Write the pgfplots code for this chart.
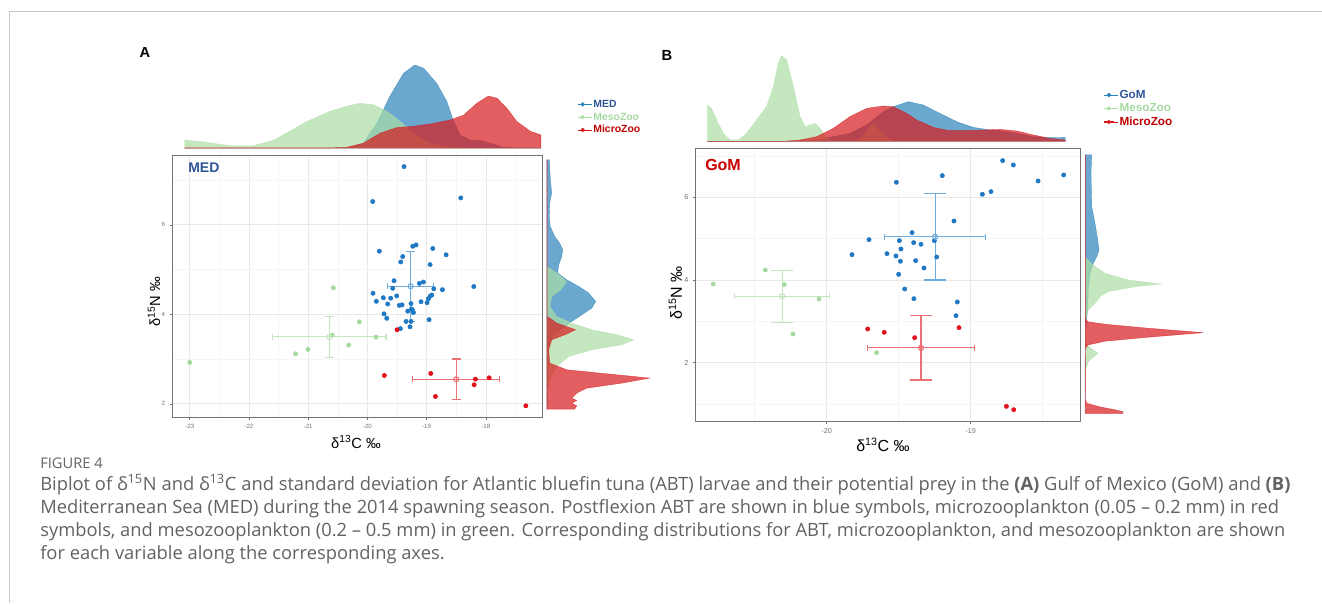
\documentclass[border=0pt]{standalone}
\usepackage{fontspec}
\setmainfont{Liberation Sans}
\newfontfamily\capfont{Open Sans}
\usepackage{pgfplots}
\pgfplotsset{compat=1.18}

\definecolor{ptblue}{RGB}{31,120,196}
\definecolor{ptgreen}{RGB}{166,217,160}
\definecolor{ptred}{RGB}{226,18,28}
\definecolor{dblue}{RGB}{43,131,186}
\definecolor{dgreen}{RGB}{171,221,164}
\definecolor{dred}{RGB}{215,25,28}
\definecolor{ebblue}{RGB}{110,172,222}
\definecolor{ebgreen}{RGB}{196,230,190}
\definecolor{ebred}{RGB}{236,112,118}
\definecolor{medtxt}{RGB}{47,85,151}
\definecolor{mesotxt}{RGB}{166,216,160}
\definecolor{microtxt}{RGB}{192,0,0}
\definecolor{gomtxt}{RGB}{204,0,0}
\definecolor{capgray}{RGB}{98,98,98}
\definecolor{framegray}{RGB}{200,200,200}

\pgfplotsset{
  panel/.style={scale only axis, axis line style={draw=black!55, line width=0.6pt},
    tick pos=left, tick align=outside, major tick length=1.6pt, minor tick length=0pt,
    tick style={black!55, line width=0.4pt}, grid=both,
    major grid style={black!9, line width=0.45pt}, minor grid style={black!4, line width=0.35pt},
    /pgf/number format/assume math mode=true, clip=false},
  marg/.style={scale only axis, hide axis, clip=false},
  dens/.style={draw=#1, draw opacity=0.75, fill=#1, fill opacity=0.7, line width=0.3pt, forget plot},
  pts/.style={only marks, mark=*, mark size=1.6pt, color=#1, mark options={draw=#1, fill=#1}},
  ebx/.style n args={2}{only marks, mark=o, mark size=1.9pt, color=#1, mark options={line width=0.6pt},
    error bars/.cd, x dir=both, x explicit, error mark=-, error bar style={#1, line width=0.8pt},
    error mark options={rotate=90, #1, line width=0.8pt, mark size=#2}},
  eby/.style n args={2}{only marks, mark=o, mark size=1.9pt, color=#1, mark options={line width=0.6pt},
    error bars/.cd, y dir=both, y explicit, error mark=-, error bar style={#1, line width=0.8pt},
    error mark options={rotate=90, #1, line width=0.8pt, mark size=#2}},
  legimg/.style={legend cell align=left,
    legend image code/.code={\path (0pt,0pt) -- (10.8pt,0pt); \draw[##1, line width=0.7pt] (0pt,0pt) -- (7.5pt,0pt); \fill[##1] (3.75pt,0pt) circle (1.4pt);}},
}

\begin{document}
\begin{tikzpicture}
\useasboundingbox (0pt,0pt) rectangle (991.5pt,454.5pt);

% ---------------- Panel A main ----------------
\begin{axis}[panel, at={(129pt,338.25pt)}, anchor=north west, width=278pt, height=197pt,
  xmin=-23.30, xmax=-17.04, ymin=1.69, ymax=7.56,
  xtick={-23,-22,-21,-20,-19,-18}, ytick={2,4,6},
  minor xtick={-22.5,-21.5,-20.5,-19.5,-18.5,-17.5}, minor ytick={3,5,7},
  ticklabel style={font=\fontsize{4.6}{5}\selectfont, text=black!55}]
\addplot[pts=ptblue] coordinates {
(-19.381,7.30) (-19.911,6.52) (-18.423,6.60) (-19.798,5.41) (-19.234,5.52) (-19.178,5.55)
(-18.896,5.47) (-18.671,5.33) (-19.404,5.29) (-19.437,5.17) (-18.941,5.11) (-19.550,4.75)
(-19.573,4.58) (-19.054,4.72) (-19.122,4.69) (-18.879,4.57) (-18.733,4.55) (-18.203,4.62)
(-19.905,4.47) (-19.731,4.37) (-19.849,4.29) (-19.505,4.41) (-19.607,4.36) (-18.913,4.43)
(-18.936,4.41) (-18.969,4.35) (-19.657,4.23) (-19.460,4.20) (-19.415,4.21) (-19.263,4.24)
(-19.094,4.28) (-18.992,4.26) (-19.257,4.12) (-19.240,4.10) (-19.319,4.07) (-19.223,4.04)
(-19.719,4.01) (-19.674,3.91) (-19.347,3.84) (-19.263,3.84) (-18.958,3.88) (-19.280,3.72)
(-19.443,3.68)};
\addplot[pts=ptgreen] coordinates {
(-23.000,2.924) (-21.213,3.117) (-21.004,3.214) (-20.576,4.592) (-20.593,3.534)
(-20.317,3.311) (-20.136,3.832) (-19.855,3.490)};
\addplot[pts=ptred] coordinates {
(-19.499,3.654) (-19.714,2.633) (-18.930,2.678) (-18.851,2.164) (-18.175,2.551)
(-18.197,2.425) (-17.944,2.581) (-17.324,1.955)};
\addplot[ebx={ebblue}{2.4pt}] coordinates {(-19.27,4.626) +- (0.384,0)};
\addplot[eby={ebblue}{3.6pt}] coordinates {(-19.27,4.626) +- (0,0.786)};
\addplot[ebx={ebgreen}{2.4pt}] coordinates {(-20.645,3.494) +- (0.959,0)};
\addplot[eby={ebgreen}{3.4pt}] coordinates {(-20.645,3.494) +- (0,0.459)};
\addplot[ebx={ebred}{2.4pt}] coordinates {(-18.50,2.549) +- (0.733,0)};
\addplot[eby={ebred}{3.4pt}] coordinates {(-18.50,2.549) +- (0,0.452)};
\end{axis}

% top marginal A
\begin{axis}[marg, legimg, at={(129pt,343.275pt)}, anchor=south west, width=278pt, height=67.5pt,
  xmin=-23.30, xmax=-17.04, ymin=0, ymax=90,
  legend style={at={(1.0925,0.562)}, anchor=north west, draw=none, fill=none, inner sep=0pt,
    font=\bfseries\fontsize{7.8}{8}\selectfont, row sep=0pt,
    nodes={inner sep=0.8pt, text height=6.2pt, text depth=1.8pt}}]
\addlegendimage{color=dblue}\addlegendentry{\textcolor{medtxt}{MED}}
\addlegendimage{color=dgreen}\addlegendentry{\textcolor{mesotxt}{MesoZoo}}
\addlegendimage{color=dred}\addlegendentry{\textcolor{microtxt}{MicroZoo}}
\addplot[dens=dblue] coordinates {
(-23.085,0) (-23.085,0.3) (-20.63,0.3) (-20.35,0.5) (-20.07,5) (-19.84,25) (-19.62,52) (-19.39,75)
(-19.20,83.3) (-19.05,80) (-18.83,65) (-18.66,47) (-18.55,28) (-18.43,13) (-18.26,8)
(-18.10,8) (-17.93,5) (-17.70,1) (-17.48,0.3) (-17.07,0.3) (-17.07,0)};
\addplot[dens=dgreen] coordinates {
(-23.085,0) (-23.085,8.3) (-22.72,6) (-22.32,2.5) (-21.93,2.5) (-21.59,8) (-21.31,17)
(-21.08,25) (-20.86,31) (-20.63,37) (-20.35,42) (-20.13,45) (-19.90,43.5) (-19.67,37)
(-19.45,27) (-19.22,15) (-18.94,5) (-18.66,1) (-18.38,0.3) (-17.07,0.3) (-17.07,0)};
\addplot[dens=dred] coordinates {
(-23.085,0) (-23.085,0.4) (-20.63,0.4) (-20.35,1) (-20.07,5) (-19.787,15) (-19.505,20.7)
(-19.223,22) (-18.941,24.3) (-18.603,28.3) (-18.378,33) (-18.152,45) (-17.955,52.3)
(-17.81,50) (-17.645,40) (-17.48,27) (-17.25,17) (-17.07,13.3) (-17.07,0)};
\end{axis}

% right marginal A
\begin{axis}[marg, at={(410.025pt,338.25pt)}, anchor=north west, width=82.5pt, height=197pt,
  xmin=0, xmax=110, ymin=1.69, ymax=7.56]
\addplot[dens=dblue] coordinates {
(0,7.453) (2.7,7.453) (3,7.229) (4,6.931) (5,6.708) (3,6.484) (2.5,6.186) (3.5,5.963)
(8,5.739) (13,5.590) (16,5.441) (15,5.292) (12,5.106) (11,4.920) (20,4.771) (32,4.622)
(42,4.473) (49,4.287) (45,4.138) (35,3.989) (25,3.840) (18,3.728) (8,3.579) (3,3.356)
(1.5,3.058) (1,2.462) (0.5,1.881) (0,1.881)};
\addplot[dens=dgreen] coordinates {
(0,5.069) (10,4.920) (20,4.734) (14,4.547) (5,4.398) (3,4.175) (10,3.952) (25,3.803)
(45,3.654) (70,3.542) (87,3.430) (75,3.318) (45,3.207) (22,3.058) (10,2.834) (4,2.611)
(1,2.313) (0,2.015)};
\addplot[dens=dred] coordinates {
(0,7.453) (0.5,7.453) (0.5,3.952) (10,3.803) (29,3.654) (18,3.542) (5,3.430) (2,3.207)
(3,2.909) (20,2.760) (60,2.670) (103,2.574) (75,2.462) (40,2.350) (30,2.238) (25,2.127)
(30,2.074) (25,2.015) (30,1.955) (28,1.881) (0,1.881)};
\end{axis}

% ---------------- Panel B main ----------------
\begin{axis}[panel, at={(521.475pt,343.275pt)}, anchor=north west, width=289.05pt, height=205.05pt,
  xmin=-20.912, xmax=-18.236, ymin=0.573, ymax=7.185,
  xtick={-20,-19}, ytick={2,4,6},
  minor xtick={-20.5,-19.5,-18.5}, minor ytick={1,3,5,7},
  ticklabel style={font=\fontsize{5.4}{6}\selectfont, text=black!55}]
\addplot[pts=ptblue] coordinates {
(-18.778,6.887) (-18.704,6.782) (-19.197,6.524) (-18.354,6.540) (-19.516,6.363)
(-18.532,6.395) (-18.919,6.073) (-18.859,6.137) (-19.116,5.427) (-19.407,5.145)
(-19.706,4.976) (-19.495,4.952) (-19.396,4.903) (-19.345,4.863) (-19.252,4.952)
(-19.484,4.750) (-19.824,4.613) (-19.581,4.637) (-19.519,4.581) (-19.236,4.556)
(-19.488,4.452) (-19.382,4.468) (-19.324,4.290) (-19.500,4.137) (-19.458,3.782)
(-19.394,3.548) (-19.093,3.468) (-19.102,3.137)};
\addplot[pts=ptgreen] coordinates {
(-20.787,3.903) (-20.426,4.242) (-20.294,3.887) (-20.053,3.540) (-20.234,2.694) (-19.653,2.242)};
\addplot[pts=ptred] coordinates {
(-19.715,2.815) (-19.600,2.734) (-19.389,2.605) (-19.081,2.847) (-18.752,0.944) (-18.701,0.863)};
\addplot[ebx={ebblue}{2.2pt}] coordinates {(-19.247,5.048) +- (0.351,0)};
\addplot[eby={ebblue}{8pt}] coordinates {(-19.247,5.048) +- (0,1.048)};
\addplot[ebx={ebgreen}{2.2pt}] coordinates {(-20.309,3.605) +- (0.328,0)};
\addplot[eby={ebgreen}{8pt}] coordinates {(-20.309,3.605) +- (0,0.629)};
\addplot[ebx={ebred}{2.2pt}] coordinates {(-19.345,2.359) +- (0.370,0)};
\addplot[eby={ebred}{8pt}] coordinates {(-19.345,2.359) +- (0,0.778)};
\end{axis}

% top marginal B
\begin{axis}[marg, legimg, at={(521.475pt,348.225pt)}, anchor=south west, width=289.05pt, height=71.25pt,
  xmin=-20.912, xmax=-18.236, ymin=0, ymax=95,
  legend style={at={(1.058,0.565)}, anchor=north west, draw=none, fill=none, inner sep=0pt,
    font=\bfseries\fontsize{8.8}{9}\selectfont, row sep=0pt,
    nodes={inner sep=0.8pt, text height=6.6pt, text depth=1.9pt}}]
\addlegendimage{color=dblue}\addlegendentry{\textcolor{medtxt}{GoM}}
\addlegendimage{color=dgreen}\addlegendentry{\textcolor{mesotxt}{MesoZoo}}
\addlegendimage{color=dred}\addlegendentry{\textcolor{microtxt}{MicroZoo}}
\addplot[dens=dblue] coordinates {
(-20.829,0) (-20.829,0.3) (-20.301,0.3) (-20.185,1) (-20.069,1.7) (-19.954,5) (-19.838,8.3)
(-19.722,16.7) (-19.606,30) (-19.537,35) (-19.433,40) (-19.329,36.7) (-19.213,28.3)
(-19.097,20) (-18.981,14.3) (-18.866,11.7) (-18.796,11) (-18.681,8.3) (-18.565,5)
(-18.449,4) (-18.343,4.3) (-18.343,0)};
\addplot[dens=dgreen] coordinates {
(-20.829,0) (-20.829,36.7) (-20.80,33.3) (-20.764,21.7) (-20.718,8.3) (-20.671,1.7)
(-20.613,1.7) (-20.556,8.3) (-20.486,21.7) (-20.417,35) (-20.370,55) (-20.336,78)
(-20.313,86) (-20.278,81.7) (-20.231,55) (-20.185,25) (-20.150,15) (-20.116,16.7)
(-20.081,18.3) (-20.046,13.3) (-20.0,3.3) (-19.965,0.3) (-19.792,0.3) (-19.745,5)
(-19.68,18.3) (-19.63,10) (-19.56,2) (-19.514,0.3) (-18.343,0.3) (-18.343,0)};
\addplot[dens=dred] coordinates {
(-20.829,0) (-20.829,0.3) (-20.301,0.3) (-20.185,1.7) (-20.069,5) (-19.954,13.3)
(-19.838,25) (-19.722,33.3) (-19.606,35.7) (-19.537,35) (-19.444,28.3) (-19.375,21.7)
(-19.259,14.3) (-19.144,11) (-19.028,11) (-18.912,11.7) (-18.796,12.3) (-18.681,10.7)
(-18.565,6.7) (-18.449,3.3) (-18.343,1.7) (-18.343,0)};
\end{axis}

% right marginal B
\begin{axis}[marg, at={(813.75pt,343.275pt)}, anchor=north west, width=93.75pt, height=205.05pt,
  xmin=0, xmax=125, ymin=0.573, ymax=7.185]
\addplot[dens=dblue] coordinates {
(0,7.024) (6.7,7.024) (6,6.581) (6.7,5.774) (10,5.371) (12.7,4.968) (14,4.726) (11.7,4.565)
(8.3,4.403) (5,4.161) (3.3,3.758) (2.7,3.355) (1.7,3.032) (0.5,2.710) (0.2,2.145) (0,0.774)};
\addplot[dens=dgreen] coordinates {
(0,4.65) (1,4.524) (10,4.323) (20,4.161) (43,4.0) (76,3.903) (50,3.839) (23,3.718)
(15,3.597) (10,3.435) (3.3,3.274) (0.7,3.032) (0.3,2.710) (1.7,2.427) (12.7,2.226)
(3.3,2.024) (0.5,1.823) (0,1.581)};
\addplot[dens=dred] coordinates {
(0,7.024) (0.5,7.024) (0.5,3.05) (3,2.99) (20,2.93) (60,2.84) (118,2.726) (60,2.61)
(20,2.52) (3,2.43) (0.5,2.35) (0.3,1.74) (0.5,1.10) (2,1.016) (15,0.93) (30,0.86)
(38,0.815) (38,0.774) (0,0.774)};
\end{axis}

% ---------------- Text (px units) ----------------
\begin{scope}[x=0.75pt,y=0.75pt]
\draw[framegray, line width=0.75pt] (9,3) -- (9,594.3) -- (1322,594.3);
\node[font=\bfseries\fontsize{11}{13}\selectfont] at (145,554) {A};
\node[font=\bfseries\fontsize{11}{13}\selectfont] at (667,551) {B};
\node[anchor=west, inner sep=0pt, font=\bfseries\fontsize{10.5}{12}\selectfont, text=medtxt] at (188,438.8) {MED};
\node[anchor=west, inner sep=0pt, font=\bfseries\fontsize{12}{14}\selectfont, text=gomtxt] at (705,440.5) {GoM};
\node[font=\fontsize{11}{13}\selectfont] at (356,164) {δ\textsuperscript{13}C ‰};
\node[font=\fontsize{11}{13}\selectfont, rotate=90] at (154,304) {δ\textsuperscript{15}N ‰};
\node[font=\fontsize{12}{14}\selectfont] at (883,161) {δ\textsuperscript{13}C ‰};
\node[font=\fontsize{12}{14}\selectfont, rotate=90] at (675.5,313) {δ\textsuperscript{15}N ‰};
\begin{scope}[every node/.style={anchor=base west, inner sep=0pt, text=capgray}]
\node[font=\capfont\fontsize{11}{12}\selectfont] at (40,137.5) {FIGURE 4};
\node[font=\capfont\fontsize{13.75}{15}\selectfont] at (40,115.5) {Biplot of δ\textsuperscript{15}N and δ\textsuperscript{13}C and standard deviation for Atlantic bluefin tuna (ABT) larvae and their potential prey in the \textbf{(A)} Gulf of Mexico (GoM) and \textbf{(B)}};
\node[font=\capfont\fontsize{13.75}{15}\selectfont] at (40,92.5) {Mediterranean Sea (MED) during the 2014 spawning season. Postflexion ABT are shown in blue symbols, microzooplankton (0.05 – 0.2 mm) in red};
\node[font=\capfont\fontsize{13.75}{15}\selectfont] at (40,69.5) {symbols, and mesozooplankton (0.2 – 0.5 mm) in green. Corresponding distributions for ABT, microzooplankton, and mesozooplankton are shown};
\node[font=\capfont\fontsize{13.75}{15}\selectfont] at (40,46.5) {for each variable along the corresponding axes.};
\end{scope}
\end{scope}
\end{tikzpicture}
\end{document}
